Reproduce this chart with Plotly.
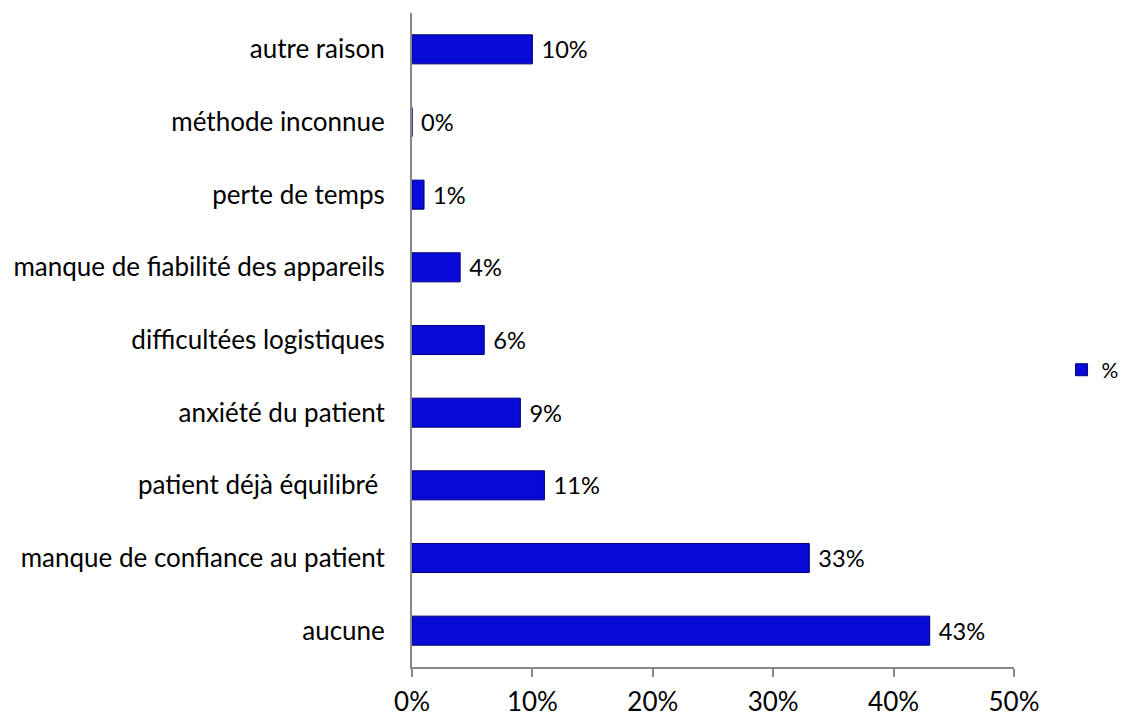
import plotly.graph_objects as go

categories = [
    "aucune",
    "manque de confiance au patient",
    "patient déjà équilibré ",
    "anxiété du patient",
    "difficultées logistiques",
    "manque de fiabilité des appareils",
    "perte de temps",
    "méthode inconnue",
    "autre raison",
]
values = [0.43, 0.33, 0.11, 0.09, 0.06, 0.04, 0.01, 0.0, 0.10]
series_name = "%"
x_ticks = [0, 0.1, 0.2, 0.3, 0.4, 0.5]

FONT = "Lato, 'Open Sans', sans-serif"
FS = 26

fig = go.Figure()
fig.add_trace(go.Bar(
    y=categories,
    x=values,
    orientation="h",
    name=series_name,
    marker=dict(color="#0a0ad6", line=dict(color="#00007a", width=1)),
    text=values,
    texttemplate=" %{x:.0%}",
    textposition="outside",
    cliponaxis=False,
    textfont=dict(family=FONT, size=FS, color="#000000"),
    showlegend=True,
    hoverinfo="skip",
))

# the page body has an 8px default margin, so the figure is 8px smaller
fig.update_layout(
    width=1120,
    height=714,
    margin=dict(l=404, r=114, t=5, b=55, autoexpand=False),
    paper_bgcolor="white",
    plot_bgcolor="white",
    bargap=0.6,
    font=dict(family=FONT, size=FS, color="#000000"),
    showlegend=True,
    legend=dict(
        x=1.079, y=0.454, xanchor="left", yanchor="middle",
        font=dict(family=FONT, size=21, color="#000000"),
        itemwidth=30,
    ),
    xaxis=dict(
        range=[0, 0.5],
        tickvals=x_ticks,
        tickformat=".0%",
        showgrid=False,
        zeroline=False,
        showline=True,
        linecolor="#888888",
        linewidth=2,
        ticks="outside",
        ticklen=8,
        tickwidth=2,
        tickcolor="#888888",
        ticklabelstandoff=3,
        tickfont=dict(family=FONT, size=FS, color="#000000"),
    ),
    yaxis=dict(
        showgrid=False,
        zeroline=False,
        showline=True,
        linecolor="#888888",
        linewidth=2,
        ticks="",
        ticklabelstandoff=20,
        tickfont=dict(family=FONT, size=FS, color="#000000"),
    ),
)

fig.write_html("out.html")
